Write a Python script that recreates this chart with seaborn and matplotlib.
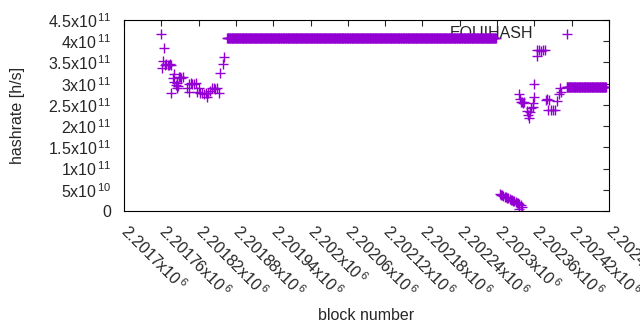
import numpy as np
import pandas as pd
import matplotlib
matplotlib.use("Agg")
import matplotlib.pyplot as plt
import matplotlib.transforms as mtransforms
import seaborn as sns

# scattered points: block number, hashrate [h/s]
left_blocks = [2201759, 2201764, 2201762, 2201761, 2201766, 2201768, 2201770, 2201772,
               2201774, 2201776, 2201780, 2201778, 2201781, 2201783, 2201785, 2201787,
               2201788, 2201790, 2201792, 2201795, 2201776, 2201785, 2201801, 2201805,
               2201804, 2201807, 2201810, 2201813, 2201816, 2201817, 2201821, 2201823,
               2201826, 2201829, 2201832, 2201835, 2201834, 2201838, 2201841, 2201844,
               2201847, 2201850, 2201852, 2201854, 2201859, 2201861]
left_values = [4.16e11, 3.83e11, 3.53e11, 3.38e11, 3.45e11, 3.46e11, 3.44e11, 3.45e11,
               3.46e11, 3.44e11, 3.22e11, 3.13e11, 3.05e11, 2.98e11, 3.02e11, 2.95e11,
               3.15e11, 3.16e11, 3.14e11, 3.15e11, 2.77e11, 2.89e11, 2.89e11, 2.81e11,
               3.00e11, 3.01e11, 2.99e11, 3.00e11, 3.01e11, 2.81e11, 2.89e11, 2.77e11,
               2.78e11, 2.76e11, 2.77e11, 2.78e11, 2.69e11, 2.83e11, 2.89e11, 2.90e11,
               2.88e11, 2.89e11, 2.77e11, 3.24e11, 3.46e11, 3.62e11]

# flat run at the top
top_start, top_end, top_value = 2201866, 2202298, 4.07e11

# falling run near zero
drop_blocks = [2202304, 2202306, 2202308, 2202310, 2202312, 2202314, 2202316, 2202318,
               2202320, 2202322, 2202324, 2202326, 2202328, 2202330, 2202332, 2202334,
               2202336, 2202338, 2202340, 2202336]
drop_values = [4.0e10, 3.8e10, 3.7e10, 3.5e10, 3.4e10, 3.3e10, 3.1e10, 3.0e10,
               2.9e10, 2.7e10, 2.6e10, 2.4e10, 2.3e10, 2.1e10, 2.0e10, 1.8e10,
               1.6e10, 1.3e10, 1.0e10, 0.5e10]

right_blocks = [2202335, 2202337, 2202338, 2202340, 2202342, 2202344, 2202360, 2202358,
                2202357, 2202355, 2202348, 2202353, 2202350, 2202351, 2202360, 2202364,
                2202365, 2202368, 2202371, 2202374, 2202377, 2202378, 2202381, 2202384,
                2202382, 2202386, 2202390, 2202393, 2202396, 2202400, 2202403, 2202401]
right_values = [2.76e11, 2.63e11, 2.56e11, 2.57e11, 2.55e11, 2.56e11, 2.68e11, 2.54e11,
                2.46e11, 2.42e11, 2.36e11, 2.34e11, 2.26e11, 2.18e11, 2.99e11, 3.65e11,
                3.79e11, 3.80e11, 3.78e11, 3.79e11, 3.80e11, 2.62e11, 2.63e11, 2.61e11,
                2.38e11, 2.37e11, 2.38e11, 2.38e11, 2.58e11, 2.76e11, 2.81e11, 2.89e11]

# flat run at the end
end_start, end_end, end_value = 2202412, 2202475, 2.93e11

x_ticks = list(range(2201700, 2202481, 60))
y_ticks = [0, 5e10, 1e11, 1.5e11, 2e11, 2.5e11, 3e11, 3.5e11, 4e11, 4.5e11]

top_blocks = np.arange(top_start, top_end + 1)
end_blocks = np.arange(end_start, end_end + 1)
df = pd.DataFrame({
    "block": np.concatenate([left_blocks, top_blocks, drop_blocks, right_blocks, end_blocks]),
    "hashrate": np.concatenate([left_values, np.full(len(top_blocks), top_value),
                                drop_values, right_values, np.full(len(end_blocks), end_value)]),
})


def sci_label(v):
    if v == 0:
        return "0"
    exp = int(np.floor(np.log10(v)))
    return f"{v / 10 ** exp:g}x10$^{{\\,{exp}}}$"


sns.set_style("white")
plt.rcParams["font.family"] = ["Liberation Sans", "DejaVu Sans"]
plt.rcParams["mathtext.fontset"] = "custom"
plt.rcParams["mathtext.rm"] = "Liberation Sans"
plt.rcParams["mathtext.it"] = "Liberation Sans"
fs = 11.5

fig = plt.figure(figsize=(6.4, 3.3), dpi=100)
ax = fig.add_axes([124 / 640, 1 - 211 / 330, (609 - 124) / 640, (211 - 20) / 330])

sns.scatterplot(data=df, x="block", y="hashrate", marker="+", color="#9400d3",
                s=42, linewidth=1.0, label="EQUIHASH", ax=ax, zorder=2)

ax.set_xlim(2201700, 2202480)
ax.set_ylim(0, 4.5e11)
ax.set_xticks(x_ticks)
ax.set_xticklabels([f"{v / 1e6:g}x10$^{{\\,6}}$" for v in x_ticks], rotation=-45,
                   ha="left", va="top", rotation_mode="anchor", fontsize=fs)
ax.set_yticks(y_ticks)
ax.set_yticklabels([sci_label(v) for v in y_ticks], fontsize=fs)
ax.tick_params(direction="in", length=4, width=0.8, top=True, right=True,
               labeltop=False, labelright=False)
ax.tick_params(axis="x", pad=8)
ax.tick_params(axis="y", pad=9)
# nudge the slanted labels so they start right at the tick, like gnuplot does
shift = mtransforms.ScaledTranslation(7 / 100, 1 / 100, fig.dpi_scale_trans)
for lab in ax.get_xticklabels():
    lab.set_transform(lab.get_transform() + shift)
for s in ax.spines.values():
    s.set_color("black")
    s.set_linewidth(0.8)

ax.set_xlabel("block number", fontsize=fs)
ax.xaxis.set_label_coords(0.5, (211 - 316) / 191)
ax.xaxis.label.set_va("center")
ax.set_ylabel("hashrate [h/s]", fontsize=fs)
ax.yaxis.set_label_coords((18 - 124) / 485, 0.5)
ax.yaxis.label.set_va("center")

leg = ax.legend(loc="upper right", bbox_to_anchor=((589 - 124) / 485, (211 - 20) / 191),
                frameon=False, markerfirst=False, fontsize=fs, borderaxespad=0,
                handletextpad=1.1, handlelength=2.0)
leg.set_zorder(1)

fig.savefig("out.png", dpi=100)
